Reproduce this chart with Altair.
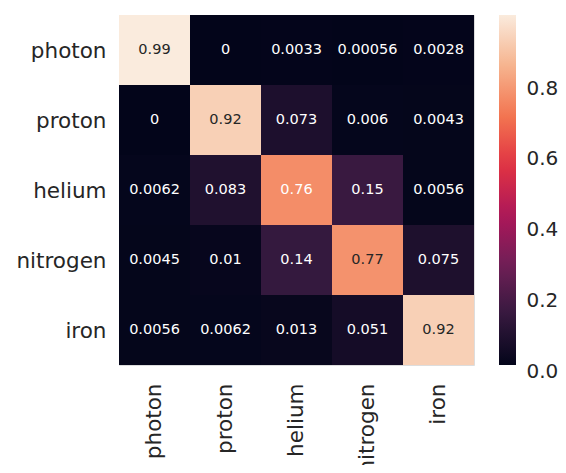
import altair as alt
import pandas as pd

classes = ["photon", "proton", "helium", "nitrogen", "iron"]
row_photon = [0.99, 0.0, 0.0033, 0.00056, 0.0028]
row_proton = [0.0, 0.92, 0.073, 0.006, 0.0043]
row_helium = [0.0062, 0.083, 0.76, 0.15, 0.0056]
row_nitrogen = [0.0045, 0.01, 0.14, 0.77, 0.075]
row_iron = [0.0056, 0.0062, 0.013, 0.051, 0.92]
rows = [row_photon, row_proton, row_helium, row_nitrogen, row_iron]

colorbar_ticks = [0.0, 0.2, 0.4, 0.6, 0.8]

# seaborn "rocket" colormap stops
rocket_pos = [0.0, 1/7, 2/7, 3/7, 4/7, 5/7, 6/7, 1.0]
rocket_hex = ["#03051a", "#35193e", "#701f57", "#ad1759",
              "#e13342", "#f37651", "#f6b48f", "#faebdd"]

records = []
for true_cls, vals in zip(classes, rows):
    for pred_cls, v in zip(classes, vals):
        records.append({"true": true_cls, "pred": pred_cls, "value": v})
df = pd.DataFrame(records)
ticks_df = pd.DataFrame({"tick": colorbar_ticks})

vmax = df["value"].max()
vmin = df["value"].min()
dom = [vmin + p * (vmax - vmin) for p in rocket_pos]

font = "DejaVu Sans"
txt = "#262626"

base = alt.Chart(df).encode(
    x=alt.X("pred:N", sort=classes, title=None,
            scale=alt.Scale(paddingInner=0, paddingOuter=0),
            axis=alt.Axis(labelAngle=270, labelAlign="right", labelBaseline="middle",
                          ticks=False, domain=False, labelPadding=18,
                          labelFontSize=21.5, labelFont=font, labelColor=txt)),
    y=alt.Y("true:N", sort=classes, title=None,
            scale=alt.Scale(paddingInner=0, paddingOuter=0),
            axis=alt.Axis(ticks=False, domain=False, labelPadding=13, labelOffset=2,
                          labelFontSize=21.5, labelFont=font, labelColor=txt)),
)

rects = base.mark_rect().encode(
    color=alt.Color("value:Q",
                    scale=alt.Scale(domain=dom, range=rocket_hex, interpolate="rgb"),
                    legend=alt.Legend(title=None, orient="none", legendX=380, legendY=0,
                                      direction="vertical", gradientLength=350,
                                      gradientThickness=17, gradientStrokeWidth=0,
                                      values=colorbar_ticks, labelOpacity=0,
                                      labelFontSize=1))
)

labels = base.mark_text(font=font, fontSize=14.5).encode(
    text=alt.Text("value:Q", format=".2~g"),
    color=alt.condition("datum.value > 0.765", alt.value(txt), alt.value("white")),
)

# colorbar tick labels as an independent right-hand axis aligned with the gradient
cbar_axis = alt.Chart(ticks_df).mark_point(opacity=0, size=0).encode(
    y=alt.Y("tick:Q", title=None,
            scale=alt.Scale(domain=[vmin, vmax], nice=False, zero=False),
            axis=alt.Axis(orient="right", offset=42, domain=False, ticks=False, grid=False,
                          values=colorbar_ticks, format=".1f", labelPadding=10,
                          labelOffset=6, labelFlush=False, labelOverlap=False,
                          labelBaseline="middle", labelFontSize=20, labelFont=font,
                          labelColor=txt))
)

heat = alt.layer(rects, labels)

chart = alt.layer(heat, cbar_axis).resolve_scale(y="independent").properties(
    width=355, height=350,
    autosize=alt.AutoSizeParams(type="none"),
    padding={"left": 111, "top": 7, "right": 84, "bottom": 100},
).configure_view(stroke=None).configure(background="white")

chart.save("out.html", embed_options={"renderer": "svg", "actions": False})
